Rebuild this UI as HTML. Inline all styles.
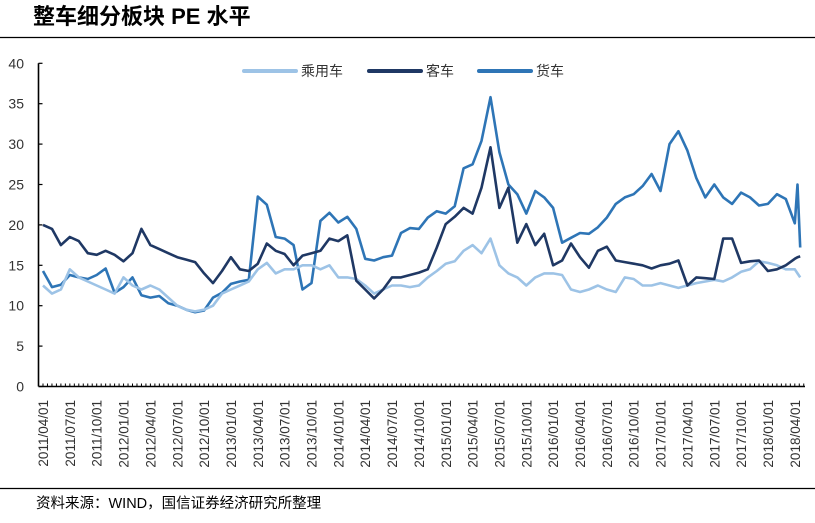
<!DOCTYPE html>
<html><head><meta charset="utf-8">
<style>
body{margin:0;background:#fff;width:815px;height:518px;overflow:hidden;font-family:"Liberation Sans","Noto Sans CJK SC",sans-serif;}
</style></head>
<body>
<svg id="chart" width="815" height="518" xmlns="http://www.w3.org/2000/svg">
<text x="33" y="24" font-size="22" font-weight="bold" fill="#000" font-family="'Liberation Sans','Noto Sans CJK SC',sans-serif">整车细分板块 PE 水平</text>
<line x1="0" y1="37.5" x2="815" y2="37.5" stroke="#000" stroke-width="1.2"/>
<line x1="0" y1="488.5" x2="815" y2="488.5" stroke="#000" stroke-width="1.2"/>
<text x="36" y="508" font-size="14.5" fill="#000" font-family="'Liberation Sans','Noto Sans CJK SC',sans-serif">资料来源：WIND，国信证券经济研究所整理</text>
<g id="axes"></g>
<g id="series"></g>
<g id="legend"></g>
</svg>
<script>
const yTicks=[0,5,10,15,20,25,30,35,40];
const xLabels=["2011/04/01","2011/07/01","2011/10/01","2012/01/01","2012/04/01","2012/07/01","2012/10/01","2013/01/01","2013/04/01","2013/07/01","2013/10/01","2014/01/01","2014/04/01","2014/07/01","2014/10/01","2015/01/01","2015/04/01","2015/07/01","2015/10/01","2016/01/01","2016/04/01","2016/07/01","2016/10/01","2017/01/01","2017/04/01","2017/07/01","2017/10/01","2018/01/01","2018/04/01"];
const seriesNames=["乘用车","客车","货车"];
const passenger=[12.5,11.5,12,14.5,13.5,13,12.5,12,11.5,13.5,12.5,12,12.5,12,11,10,9.5,9.3,9.5,10,11.5,12,12.5,13,14.5,15.3,14,14.5,14.5,15,15,14.5,15,13.5,13.5,13.3,12.5,11.5,12,12.5,12.5,12.3,12.5,13.5,14.3,15.2,15.5,16.8,17.5,16.5,18.3,15,14,13.5,12.5,13.5,14,14,13.8,12,11.7,12,12.5,12,11.7,13.5,13.3,12.5,12.5,12.8,12.5,12.2,12.5,12.8,13,13.2,13,13.5,14.2,14.5,15.5,15.3,15,14.5,14.5,14,13.5];
const bus=[20,19.5,17.5,18.5,18,16.5,16.3,16.8,16.3,15.5,16.5,19.5,17.5,17,16.5,16,15.7,15.4,14,12.8,14.3,16,14.5,14.3,15.2,17.7,16.8,16.4,15,16.2,16.5,16.8,18.3,18,18.7,13.1,12,10.9,12,13.5,13.5,13.8,14.1,14.5,17.2,20.1,21,22.1,21.4,24.6,29.6,22.1,24.6,17.8,20.1,17.5,18.9,15,15.6,17.7,16,14.7,16.8,17.3,15.6,15.4,15.2,15,14.6,15,15.2,15.6,12.5,13.5,13.4,13.3,18.3,18.3,15.3,15.5,15.6,14.3,14.5,15,15.8,16,16.1];
const truck=[14.3,12.3,12.6,13.8,13.5,13.3,13.8,14.6,11.6,12.3,13.5,11.3,11,11.2,10.3,10,9.5,9.2,9.4,11,11.6,12.7,13,13.2,23.5,22.5,18.5,18.3,17.5,12,12.8,20.5,21.5,20.3,21,19.5,15.8,15.6,16,16.2,19,19.6,19.5,20.9,21.7,21.4,22.3,27,27.5,30.4,35.8,29,25,23.8,21.4,24.2,23.4,22.1,17.8,18.4,19,18.9,19.7,20.9,22.6,23.4,23.8,24.8,26.3,24.2,30,31.6,29.2,25.8,23.4,25,23.4,22.6,24,23.4,22.4,22.6,23.8,23.2,20.2,25,17.2];
const extraMonths=[84.3,84.6];
const NS="http://www.w3.org/2000/svg";
const X0=43,MW=8.95,Y0=386.5,YS=8.08,AX=38.5;
function xs(m){return X0+m*MW;}
function ys(v){return Y0-v*YS;}
function months(n){const a=[];for(let i=0;i<n;i++){a.push(i<85?i:extraMonths[i-85]);}return a;}
function mk(tag,attrs,parent){const e=document.createElementNS(NS,tag);for(const k in attrs)e.setAttribute(k,attrs[k]);parent.appendChild(e);return e;}
const axes=document.getElementById('axes');
let yl=mk('line',{x1:AX,y1:ys(40),x2:AX,y2:Y0,stroke:'#000','stroke-width':1.6},axes);


let xl=mk('line',{x1:AX,y1:Y0,x2:805,y2:Y0,stroke:'#000','stroke-width':1.6},axes);


yTicks.forEach(v=>{
  let t=mk('line',{x1:AX,y1:ys(v),x2:AX+4,y2:ys(v),stroke:'#000','stroke-width':1.2},axes);
  
  
  let tx=mk('text',{x:24,y:ys(v)+5,'text-anchor':'end','font-size':14,fill:'#333'},axes);
  tx.textContent=v;
  
  
});
for(let m=0;m<=85;m+=0.5){
  let t=mk('line',{x1:xs(m),y1:Y0,x2:xs(m),y2:Y0-3,stroke:'#000','stroke-width':1},axes);
  
  
}
xLabels.forEach((l,i)=>{
  const x=xs(i*3)+5;
  let tx=mk('text',{x:0,y:0,transform:`translate(${x},400) rotate(-90)`,'text-anchor':'end','font-size':13.5,fill:'#333'},axes);
  tx.textContent=l;
  
  
});
const colors=['#9DC3E6','#1F3864','#2E75B6'];
const data=[passenger,bus,truck];
const names=['passenger-car-line','bus-line','truck-line'];
const sg=document.getElementById('series');
[2,0,1].forEach(k=>{
  const arr=data[k],ms=months(arr.length);
  const pts=arr.map((v,i)=>xs(ms[i]).toFixed(1)+','+ys(v).toFixed(1)).join(' ');
  let p=mk('polyline',{points:pts,fill:'none',stroke:colors[k],'stroke-width':2.6,'stroke-linejoin':'round'},sg);
  
  
});
const lg=document.getElementById('legend');
const lx=[244,369,479];
seriesNames.forEach((n,i)=>{
  let l=mk('line',{x1:lx[i],y1:71,x2:lx[i]+52,y2:71,stroke:colors[i],'stroke-width':4,'stroke-linecap':'round'},lg);
  
  
  let t=mk('text',{x:lx[i]+57,y:76,'font-size':14,fill:'#333'},lg);
  t.textContent=n;
  
  
});
</script>
</body></html>
